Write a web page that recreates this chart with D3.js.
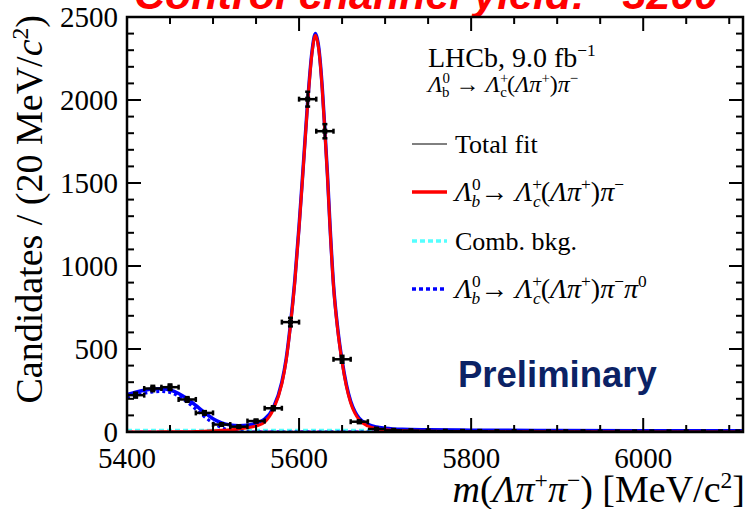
<!DOCTYPE html>
<html><head><meta charset="utf-8">
<script src="https://cdn.jsdelivr.net/npm/d3@7"></script>
<style>html,body{margin:0;padding:0;background:#fff;overflow:hidden}</style>
</head><body>
<svg id="c" width="749" height="509"></svg>
<script>
// ---- data ----
const massBins = [5410,5430,5450,5470,5490,5510,5530,5550,5570,5590,5610,5630,5650,5670,5690,5710,5730,5750,5770,5790,5810,5830,5850,5870,5890,5910,5930,5950,5970,5990,6010,6030,6050,6070,6090,6110];
const counts   = [222,262,270,196,115,45,32,66,143,662,2005,1812,438,62,18,10,8,6,5,4,4,3,3,2,2,2,2,1,1,1,1,1,1,1,1,1];
const binHalfWidth = 10;

const curveMass  = [5400,5410,5420,5430,5440,5450,5460,5470,5480,5490,5500,5510,5520,5530,5540,5550,5560,5570,5580,5585,5590,5595,5600,5605,5610,5615,5619,5623,5627,5630,5633,5636,5640,5645,5650,5655,5660,5665,5670,5680,5690,5700,5720,5750,5800,5900,6000,6116];
const totalFit   = [225,240,252,259,261,253,232,200,160,118,80,55,42,38,41,53,78,145,300,440,650,910,1240,1610,1990,2290,2400,2310,2070,1820,1550,1240,890,620,430,285,185,122,82,46,30,23,16,13,11,9,8,7];
const signalFit  = [0,0,0,0,1,1,2,2,3,5,7,10,13,18,25,36,60,135,290,430,640,900,1230,1600,1980,2280,2390,2300,2060,1810,1540,1230,880,610,420,275,175,112,72,36,20,13,7,4,2,1,0.5,0.3];
const partRecoFit= [205,220,233,241,244,238,215,180,137,92,54,26,10,3,1,0,0,0,0,0,0,0,0,0,0,0,0,0,0,0,0,0,0,0,0,0,0,0,0,0,0,0,0,0,0,0,0,0];
const combFit    = [11,11,11,11,11,11,11,11,11,10,10,10,10,10,10,10,10,10,10,10,10,10,10,10,10,10,10,10,10,10,10,10,10,10,10,10,10,10,10,10,9,9,9,9,9,8,8,8];
const otherMass  = [5400,6116];
const otherFit   = [0,0];

const xTicksMajor = [5400,5600,5800,6000];
const yTicksMajor = [0,500,1000,1500,2000,2500];

// ---- layout ----
const svg = d3.select('#c');
const L=127, R=743, T=17, B=432;
const x = d3.scaleLinear().domain([5400,6116]).range([L,R]);
const y = d3.scaleLinear().domain([0,2500]).range([B,T]);
const serif = "'Liberation Serif','Times New Roman',serif";

// red title (cut off at top)
svg.append('text').attr('x',134).attr('y',9)
  .attr('font-family',"'Liberation Sans',Arial,sans-serif").attr('font-weight','bold').attr('font-style','italic')
  .attr('font-size',43).attr('fill','#ff0000').text('Control channel yield: ~3200');

svg.append('defs').append('clipPath').attr('id','clip')
  .append('rect').attr('x',L).attr('y',T).attr('width',R-L).attr('height',B-T);

const plot = svg.append('g').attr('clip-path','url(#clip)');

function line(xs, ys){
  return d3.line().x((d,i)=>x(xs[i])).y(d=>y(d)).curve(d3.curveMonotoneX)(ys);
}
// curves
plot.append('path').attr('d',line(otherMass,otherFit)).attr('fill','none')
  .attr('stroke','#ff00ff').attr('stroke-width',3).attr('stroke-dasharray','6,4');
plot.append('path').attr('d',line(curveMass,combFit)).attr('fill','none')
  .attr('stroke','#55ffff').attr('stroke-width',3).attr('stroke-dasharray','5,3');
plot.append('path').attr('d',line(curveMass,partRecoFit)).attr('fill','none')
  .attr('stroke','#0000ff').attr('stroke-width',3).attr('stroke-dasharray','3,3');
plot.append('path').attr('d',line(curveMass,totalFit)).attr('fill','none')
  .attr('stroke','#0000ff').attr('stroke-width',3.5);
plot.append('path').attr('d',line(curveMass,signalFit)).attr('fill','none')
  .attr('stroke','#ff0000').attr('stroke-width',3);

// data points
const pts = plot.append('g').attr('stroke','#000').attr('stroke-width',2.5);
massBins.forEach((m,i)=>{
  const n=counts[i], e=Math.sqrt(n);
  const cx=x(m), cy=y(n);
  pts.append('line').attr('x1',x(m-binHalfWidth)).attr('x2',x(m+binHalfWidth)).attr('y1',cy).attr('y2',cy);
  const y1=y(n+e), y2=y(Math.max(0,n-e));
  pts.append('line').attr('x1',cx).attr('x2',cx).attr('y1',y1).attr('y2',y2);
  if (n>30){
    pts.append('line').attr('x1',cx-2.5).attr('x2',cx+2.5).attr('y1',y1).attr('y2',y1);
    pts.append('line').attr('x1',cx-2.5).attr('x2',cx+2.5).attr('y1',y2).attr('y2',y2);
    pts.append('line').attr('x1',x(m-binHalfWidth)).attr('x2',x(m-binHalfWidth)).attr('y1',cy-2.5).attr('y2',cy+2.5);
    pts.append('line').attr('x1',x(m+binHalfWidth)).attr('x2',x(m+binHalfWidth)).attr('y1',cy-2.5).attr('y2',cy+2.5);
  }
  pts.append('rect').attr('x',cx-2.5).attr('y',cy-2.5).attr('width',5).attr('height',5).attr('fill','#000').attr('stroke','none');
});

// axes (ROOT style ticks inside)
const ax = svg.append('g').attr('stroke','#000');
const xMinor = d3.range(5400,6117,50), yMinor = d3.range(0,2501,100);
xMinor.forEach(v=>{
  const len = xTicksMajor.includes(v)?14:7;
  ax.append('line').attr('x1',x(v)).attr('x2',x(v)).attr('y1',B).attr('y2',B-len).attr('stroke-width',2);
  ax.append('line').attr('x1',x(v)).attr('x2',x(v)).attr('y1',T).attr('y2',T+len).attr('stroke-width',2);
});
yMinor.forEach(v=>{
  const len = yTicksMajor.includes(v)?14:7;
  ax.append('line').attr('x1',L).attr('x2',L+len).attr('y1',y(v)).attr('y2',y(v)).attr('stroke-width',2);
  ax.append('line').attr('x1',R).attr('x2',R-len).attr('y1',y(v)).attr('y2',y(v)).attr('stroke-width',2);
});
ax.append('rect').attr('x',L).attr('y',T).attr('width',R-L).attr('height',B-T).attr('fill','none').attr('stroke-width',2.5);

const lab = svg.append('g').attr('font-family',serif).attr('fill','#000');
xTicksMajor.forEach(v=>{
  lab.append('text').attr('x',x(v)).attr('y',468).attr('text-anchor','middle').attr('font-size',29).text(v);
});
yTicksMajor.forEach(v=>{
  lab.append('text').attr('x',118).attr('y',y(v)+10).attr('text-anchor','end').attr('font-size',29).text(v);
});

// rich text helper
function rich(g, x0, y0, size, parts, anchor){
  const t = g.append('text').attr('x',x0).attr('y',y0).attr('font-size',size).attr('text-anchor',anchor||'start');
  let shift=0;
  parts.forEach(p=>{
    const [txt, kind, italic, dx] = p;
    let target=0, fs=size;
    if(kind==='sup'){target=-0.38*size; fs=0.62*size;}
    if(kind==='sub'){target=0.22*size; fs=0.62*size;}
    const ts=t.append('tspan').text(txt).attr('font-size',fs).attr('dy', target-shift);
    if(italic) ts.attr('font-style','italic');
    if(dx!==undefined) ts.attr('dx',dx);
    shift=target;
  });
  return t;
}

// axis titles
rich(lab, 745, 502, 38, [['m','n',true],['(','n'],['Λπ','n',true],['+','sup'],['π','n',true],['−','sup'],[') [MeV/c','n'],['2','sup'],[']','n']], 'end');
const yt = lab.append('g').attr('transform','translate(42,15) rotate(-90)');
rich(yt, 0, 0, 38, [['Candidates / (20 MeV/','n'],['c','n',true],['2','sup'],[')','n']], 'end');

// legend header
rich(lab, 428, 67, 28, [['LHCb, 9.0 fb','n'],['−1','sup']]);
rich(lab, 428, 92, 24, [['Λ','n',true],['0','sup'],['b','sub',false,-8],[' → ','n'],['Λ','n',true],['+','sup'],['c','sub',false,-8],['(','n'],['Λπ','n',true],['+','sup'],[')','n'],['π','n',true],['−','sup']]);

// legend entries
const legY = [144,192,241,289];
const lg = svg.append('g');
lg.append('line').attr('x1',412).attr('x2',447).attr('y1',legY[0]).attr('y2',legY[0]).attr('stroke','#000').attr('stroke-width',1);
lg.append('line').attr('x1',412).attr('x2',447).attr('y1',legY[1]).attr('y2',legY[1]).attr('stroke','#ff0000').attr('stroke-width',3.5);
lg.append('line').attr('x1',412).attr('x2',447).attr('y1',legY[2]).attr('y2',legY[2]).attr('stroke','#55ffff').attr('stroke-width',3.5).attr('stroke-dasharray','5,3');
lg.append('line').attr('x1',412).attr('x2',447).attr('y1',legY[3]).attr('y2',legY[3]).attr('stroke','#0000ff').attr('stroke-width',3.5).attr('stroke-dasharray','4,3');
rich(lab, 455, legY[0]+9, 26, [['Total fit','n']]);
const decay = [['Λ','n',true],['0','sup'],['b','sub',true,-9],['→ ','n'],['Λ','n',true],['+','sup'],['c','sub',true,-9],['(','n'],['Λπ','n',true],['+','sup'],[')','n'],['π','n',true],['−','sup']];
rich(lab, 455, legY[1]+9, 28, decay);
rich(lab, 455, legY[2]+9, 26, [['Comb. bkg.','n']]);
rich(lab, 455, legY[3]+9, 28, decay.concat([['π','n',true],['0','sup']]));

// Preliminary
svg.append('text').attr('x',458).attr('y',387).attr('font-family',"'Liberation Sans',Arial,sans-serif")
  .attr('font-weight','bold').attr('font-size',36.5).attr('fill','#0b2265').text('Preliminary');
</script>
</body></html>
